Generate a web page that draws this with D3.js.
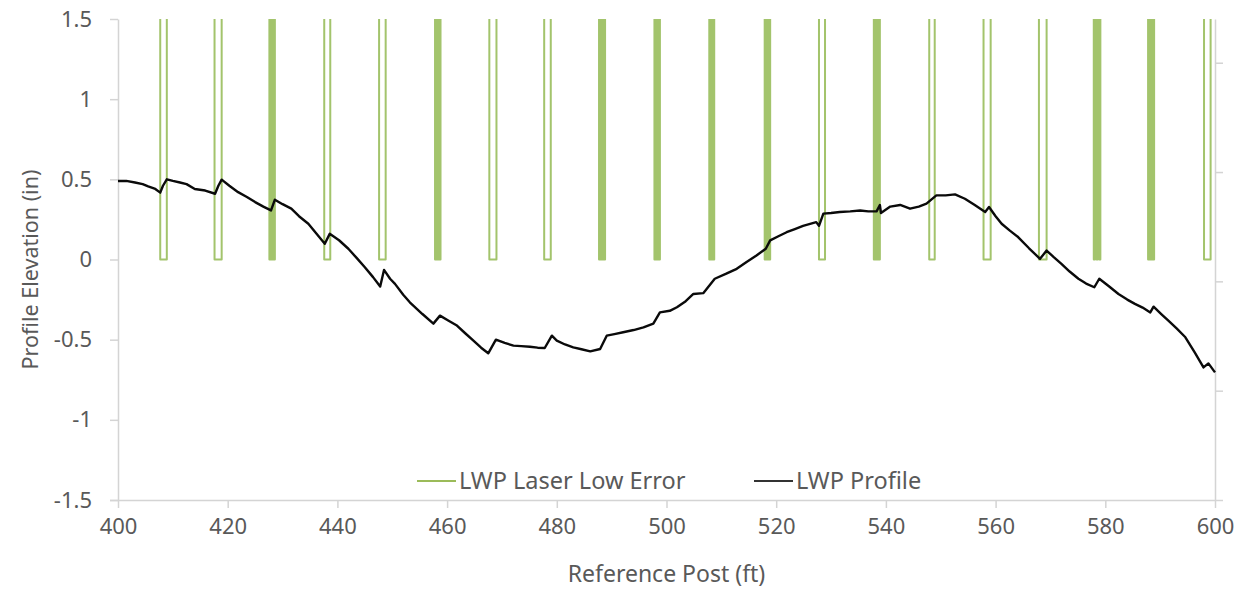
<!DOCTYPE html>
<html>
<head>
<meta charset="utf-8">
<script src="https://cdn.jsdelivr.net/npm/d3@7"></script>
<style>
  body { margin: 0; background: #fff; }
  text { font-family: "Noto Sans", "Open Sans", sans-serif; fill: #595959; }
</style>
</head>
<body>
<div id="chart"></div>
<script>
// profile elevation readings (ft, in)
var profileX = [400, 401.5, 403.1, 404.5, 405.5, 406.8, 407.7, 408.2, 408.9, 410, 411.3, 412.5, 414, 415.9, 417.7, 418.3, 418.9,
  420.3, 421.9, 423.5, 425, 426.5, 427.9, 428.6, 430, 431.6, 433, 434.7, 436.2, 437.7, 438.6, 440.3, 442, 443.5, 445, 446.5,
  447.8, 448.5, 449.6, 450.5, 452, 453.2, 455.5, 457.5, 458.7, 460.2, 461.7, 463.3, 464.8, 466.2, 467.5, 468.9, 470.5, 472.1,
  473.5, 475.1, 476.5, 477.8, 479.1, 480, 481.5, 483, 484.5, 486.1, 487.9, 489.1, 490.5, 492.1, 494, 495.8, 497.6, 498.8,
  500.6, 501.9, 503.5, 504.9, 506.7, 508.8, 510.8, 512.8, 514.6, 516.4, 518.1, 518.9, 520.4, 521.9, 523.4, 524.9, 527.3,
  527.8, 528.6, 530, 531.6, 533.5, 535.3, 536.8, 538.3, 538.9, 539.1, 540.8, 542.6, 544.4, 546, 547.4, 549.2, 550.9, 552.6,
  554.4, 556.2, 558.1, 558.8, 560, 561.1, 562.6, 564.1, 566.1, 568.1, 569.3, 570.6, 572, 573.5, 575.1, 576.5, 578, 578.9,
  580.6, 582.4, 584, 585.4, 586.8, 588.2, 588.8, 590.2, 591.5, 593, 594.6, 596.3, 597.9, 598.8, 600];
var profileY = [0.49, 0.49, 0.48, 0.47, 0.456, 0.44, 0.417, 0.46, 0.5, 0.49, 0.48, 0.47, 0.44, 0.43, 0.41, 0.46, 0.498,
  0.46, 0.42, 0.39, 0.358, 0.33, 0.306, 0.373, 0.345, 0.317, 0.27, 0.223, 0.16, 0.098, 0.16, 0.12, 0.067, 0.01, -0.048, -0.11,
  -0.169, -0.065, -0.12, -0.152, -0.22, -0.267, -0.34, -0.4, -0.35, -0.38, -0.41, -0.46, -0.506, -0.55, -0.585, -0.5, -0.52, -0.537,
  -0.54, -0.544, -0.55, -0.552, -0.475, -0.506, -0.53, -0.548, -0.56, -0.573, -0.558, -0.475, -0.465, -0.454, -0.44, -0.423, -0.4, -0.33,
  -0.32, -0.298, -0.26, -0.215, -0.21, -0.12, -0.09, -0.058, -0.015, 0.025, 0.067, 0.119, 0.145, 0.17, 0.19, 0.21, 0.233,
  0.21, 0.286, 0.29, 0.296, 0.3, 0.306, 0.3, 0.3, 0.34, 0.29, 0.33, 0.34, 0.317, 0.33, 0.348, 0.4, 0.4, 0.406,
  0.379, 0.34, 0.296, 0.327, 0.27, 0.223, 0.18, 0.14, 0.07, 0.004, 0.056, 0.015, -0.027, -0.075, -0.12, -0.15, -0.173, -0.12,
  -0.165, -0.215, -0.25, -0.277, -0.3, -0.33, -0.294, -0.34, -0.381, -0.43, -0.485, -0.58, -0.673, -0.648, -0.704];

// laser low error flags: edge positions of each flagged stretch (ft)
var laserEdges = [
  [407.7, 408.9], [417.6, 418.9], [427.6, 427.8, 428.0, 428.2, 428.4, 428.6], [437.6, 438.7], [447.6, 448.8],
  [457.8, 458.0, 458.2, 458.4, 458.6, 458.8], [467.7, 469.0], [477.7, 478.9],
  [487.7, 487.9, 488.1, 488.3, 488.5, 488.8], [497.8, 498.0, 498.2, 498.4, 498.6, 498.8],
  [507.8, 508.0, 508.2, 508.4, 508.5, 508.7], [517.9, 518.1, 518.3, 518.5, 518.7, 518.9], [527.8, 528.9],
  [537.8, 538.0, 538.2, 538.5, 538.7, 538.9], [547.9, 548.9], [557.8, 559.1], [567.9, 569.3],
  [577.9, 578.1, 578.4, 578.6, 578.9, 579.1], [587.8, 588.0, 588.2, 588.5, 588.7, 588.9], [598.0, 599.2]
];
var laserHigh = 2;   // flag level (above the visible range)
var laserLow = 0;

var yTicks = [-1.5, -1, -0.5, 0, 0.5, 1, 1.5];
var xTicks = [400, 420, 440, 460, 480, 500, 520, 540, 560, 580, 600];
var y2Ticks = [0, 1, 2, 3, 4];
var seriesNames = ["LWP Laser Low Error", "LWP Profile"];

var width = 1260, height = 590;
var margin = {top: 19, right: 45, bottom: 90, left: 118};
var innerW = width - margin.left - margin.right;
var innerH = height - margin.top - margin.bottom;

var svg = d3.select("#chart").append("svg")
  .attr("width", width)
  .attr("height", height);

var g = svg.append("g")
  .attr("transform", "translate(" + margin.left + "," + margin.top + ")");

var x = d3.scaleLinear().domain([400, 600]).range([0, innerW]);
var y = d3.scaleLinear().domain([-1.5, 1.5]).range([innerH, 0]);
var y2 = d3.scaleLinear().domain([0, 4.4]).range([innerH, 0]);

g.append("clipPath").attr("id", "plot-clip")
  .append("rect").attr("x", -2).attr("y", 0).attr("width", innerW + 4).attr("height", innerH);

// axes
var axisColor = "#d4d4d4";
var xAxis = g.append("g")
  .attr("transform", "translate(0," + innerH + ")")
  .call(d3.axisBottom(x).tickValues(xTicks).tickSize(8).tickPadding(10).tickSizeOuter(0));
var yAxis = g.append("g")
  .call(d3.axisLeft(y).tickValues(yTicks).tickSize(8).tickPadding(18).tickSizeOuter(0)
    .tickFormat(function(d) { return String(d); }));
var y2Axis = g.append("g")
  .attr("transform", "translate(" + innerW + ",0)")
  .call(d3.axisRight(y2).tickValues(y2Ticks).tickSize(8).tickSizeOuter(0).tickFormat(""));

[xAxis, yAxis, y2Axis].forEach(function(a) {
  a.select(".domain").attr("stroke", axisColor).attr("stroke-width", 1.5);
  a.selectAll(".tick line").attr("stroke", axisColor).attr("stroke-width", 1.5);
  a.selectAll(".tick text").style("font-size", "22px").style("fill", "#595959");
});
// x axis line runs under the left tick
xAxis.select(".domain").attr("d", "M-8,0.5H" + innerW);

// laser low error pulses
var line = d3.line()
  .x(function(d) { return x(d[0]); })
  .y(function(d) { return y(d[1]); });

var pulses = laserEdges.map(function(edges) {
  var pts = [];
  for (var i = 0; i < edges.length; i += 2) {
    pts.push([edges[i], laserHigh], [edges[i], laserLow], [edges[i + 1], laserLow], [edges[i + 1], laserHigh]);
  }
  return pts;
});

g.append("g").attr("clip-path", "url(#plot-clip)")
  .selectAll("path.pulse")
  .data(pulses)
  .enter()
  .append("path")
    .attr("class", "pulse")
    .attr("d", line)
    .attr("fill", "none")
    .attr("stroke", "#a3c46c")
    .attr("stroke-width", 2)
    .attr("stroke-linejoin", "round");

// profile line
var profile = profileX.map(function(d, i) { return [d, profileY[i]]; });
g.append("path")
  .datum(profile)
  .attr("d", line)
  .attr("fill", "none")
  .attr("stroke", "#0a0a0a")
  .attr("stroke-width", 2.4)
  .attr("stroke-linejoin", "round");

// axis titles
svg.append("text")
  .attr("x", margin.left + innerW / 2)
  .attr("y", 582)
  .attr("text-anchor", "middle")
  .style("font-size", "23px")
  .text("Reference Post (ft)");

svg.append("text")
  .attr("transform", "translate(38," + (margin.top + innerH / 2 + 10) + ") rotate(-90)")
  .attr("text-anchor", "middle")
  .style("font-size", "21.5px")
  .text("Profile Elevation (in)");

// legend
var legend = svg.append("g").attr("transform", "translate(417,481)");
var legendItems = [
  {name: seriesNames[0], color: "#9bbb59", dx: 0},
  {name: seriesNames[1], color: "#333", dx: 337}
];
legendItems.forEach(function(d) {
  var item = legend.append("g").attr("transform", "translate(" + d.dx + ",0)");
  item.append("line")
    .attr("x1", 0).attr("x2", 39).attr("y1", 0).attr("y2", 0)
    .attr("stroke", d.color).attr("stroke-width", 2.2);
  item.append("text")
    .attr("x", 42).attr("y", 0).attr("dy", "0.35em")
    .style("font-size", "23.5px")
    .text(d.name);
});
</script>
</body>
</html>
